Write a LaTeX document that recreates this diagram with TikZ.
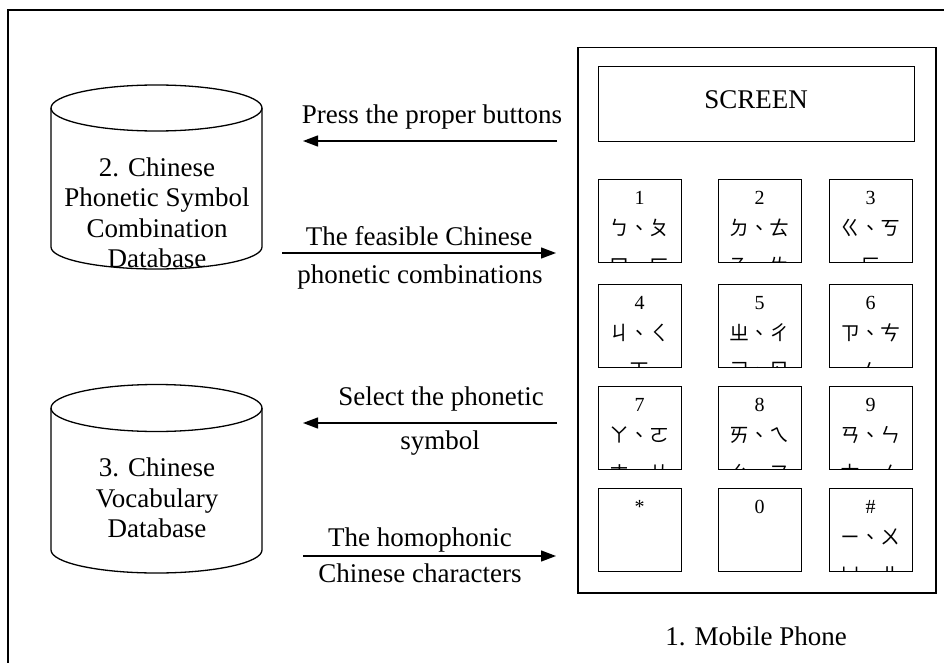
\documentclass[tikz,border=0pt]{standalone}
\usepackage{fontspec}
\setmainfont{Liberation Serif}
\newfontfamily\cjk{Noto Sans CJK TC}
\usetikzlibrary{arrows.meta}

% one keypad button: name, left, top, digit, first symbol row, second symbol row
\newcommand\keybtn[6]{%
  \begin{scope}
    \clip (#2,#3) rectangle ++(83,83);
    \node[keydigit] (#1d) at (#2+41.5,#3+19) {#4};
    \node[keysym] (#1a) at (#2+41.5,#3+49) {#5};
    \node[keysym] (#1b) at (#2+41.5,#3+87) {#6};
  \end{scope}
  \node[keybox, anchor=north west] (#1) at (#2,#3) {};
}

\begin{document}
\begin{tikzpicture}[x=1pt, y=1pt, yscale=-1,
  frame/.style={line width=1.5pt},
  outline/.style={line width=1.3pt},
  flow/.style={line width=1.3pt, -{Triangle[length=15pt,width=11pt]}},
  lbl/.style={font=\fontsize{27}{30.5}\selectfont, inner sep=0pt, align=center},
  keydigit/.style={font=\fontsize{20}{22}\selectfont, inner sep=0pt},
  keysym/.style={font=\cjk\fontsize{20}{22}\selectfont, inner sep=0pt},
  keybox/.style={draw, line width=1.3pt, minimum width=83pt, minimum height=83pt, inner sep=0pt}]

\useasboundingbox (0,0) rectangle (944,663);
\clip (0,0) rectangle (944,663);

% surrounding frame (open to the right and bottom)
\draw[frame] (8,670) -- (8,10) -- (950,10);

% database cylinders
\draw[outline] (156.5,108) ellipse [x radius=105.5pt, y radius=23pt];
\draw[outline] (51,108) -- (51,247) arc [start angle=180, end angle=0, x radius=105.5pt, y radius=22pt] -- (262,108);
\node[lbl] (db2) at (157,213) {2. Chinese\\Phonetic Symbol\\Combination\\Database};

\draw[outline] (156.5,408) ellipse [x radius=105.5pt, y radius=23.5pt];
\draw[outline] (51,408) -- (51,550) arc [start angle=180, end angle=0, x radius=105.5pt, y radius=23pt] -- (262,408);
\node[lbl] (db3) at (157,498) {3. Chinese\\Vocabulary\\Database};

% mobile phone
\node[draw, frame, anchor=north west, minimum width=358pt, minimum height=545pt, inner sep=0pt] (phone) at (577,47) {};
\node[draw, outline, anchor=north west, minimum width=316pt, minimum height=75pt, inner sep=0pt] (screen) at (598,66) {};
\node[lbl] (screentext) at (756,100) {SCREEN};
\node[lbl] (phonename) at (756,636) {1. Mobile Phone};

\keybtn{k1}{598}{179}{1}{ㄅ、ㄆ}{ㄇ、ㄈ}
\keybtn{k2}{718}{179}{2}{ㄉ、ㄊ}{ㄋ、ㄌ}
\keybtn{k3}{829}{179}{3}{ㄍ、ㄎ}{ㄏ}
\keybtn{k4}{598}{284}{4}{ㄐ、ㄑ}{ㄒ}
\keybtn{k5}{718}{284}{5}{ㄓ、ㄔ}{ㄕ、ㄖ}
\keybtn{k6}{829}{284}{6}{ㄗ、ㄘ}{ㄙ}
\keybtn{k7}{598}{386}{7}{ㄚ、ㄛ}{ㄜ、ㄝ}
\keybtn{k8}{718}{386}{8}{ㄞ、ㄟ}{ㄠ、ㄡ}
\keybtn{k9}{829}{386}{9}{ㄢ、ㄣ}{ㄤ、ㄥ}
\keybtn{kstar}{598}{488}{*}{}{}
\keybtn{kzero}{718}{488}{0}{}{}
\keybtn{khash}{829}{488}{\#}{ㄧ、ㄨ}{ㄩ、ㄦ}

% flows between phone and databases
\coordinate (a1s) at (557,141);  \coordinate (a1e) at (303,141);
\coordinate (a2s) at (282,253);  \coordinate (a2e) at (556,253);
\coordinate (a3s) at (557,423);  \coordinate (a3e) at (303,423);
\coordinate (a4s) at (303,556);  \coordinate (a4e) at (556,556);
\draw[flow] (a1s) -- (a1e);
\draw[flow] (a2s) -- (a2e);
\draw[flow] (a3s) -- (a3e);
\draw[flow] (a4s) -- (a4e);

\node[lbl] (l1) at (432,117) {Press the proper buttons};
\node[lbl] (l2a) at (419,236) {The feasible Chinese};
\node[lbl] (l2b) at (420,277) {phonetic combinations};
\node[lbl] (l3a) at (441,399) {Select the phonetic};
\node[lbl] (l3b) at (440,443) {symbol};
\node[lbl] (l4a) at (420,540) {The homophonic};
\node[lbl] (l4b) at (420,573) {Chinese characters};
\end{tikzpicture}
\end{document}
